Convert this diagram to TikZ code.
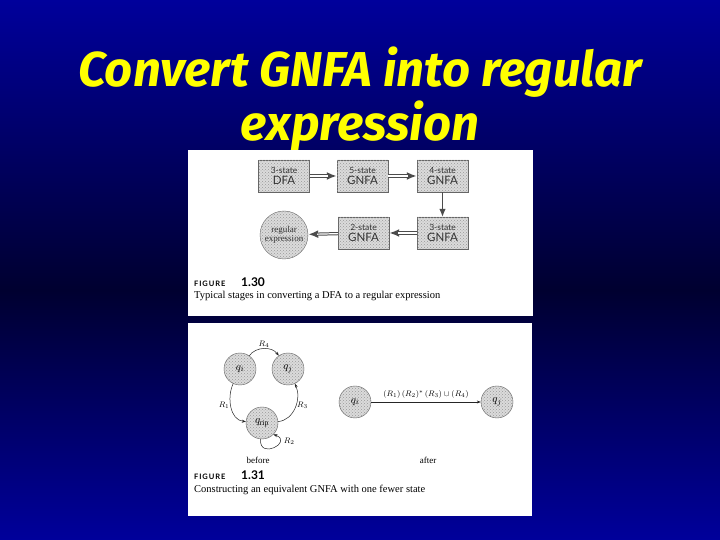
\documentclass[tikz,border=0pt]{standalone}
\usepackage{fontspec}
\setmainfont{Liberation Serif}
\newfontfamily\titlefont{Fira Sans}
\newfontfamily\bookfont{Lato}
\usetikzlibrary{arrows.meta,patterns}
\definecolor{slideblue}{RGB}{0,0,155}
\definecolor{slidedark}{RGB}{0,0,48}
\definecolor{titleyellow}{RGB}{255,255,0}
\tikzset{
  titletext/.style={text=titleyellow, align=center,
    font=\titlefont\bfseries\itshape\fontsize{49}{54}\selectfont},
  stipple/.style={fill=black!14, postaction={pattern=crosshatch dots, pattern color=black!40}},
  stagebox/.style={draw=black!60, stipple, minimum width=51pt, minimum height=32pt,
    inner sep=1pt, align=center, text=black!80, font=\bookfont\fontsize{11.5}{10.5}\selectfont},
  stagecirc/.style={circle, draw=black!60, stipple, minimum size=48pt, inner sep=0pt,
    align=center, text=black!80, font=\fontsize{9}{9}\selectfont},
  dblarrow/.style={-{Latex[length=10pt,width=8pt]}, line width=3.2pt, draw=black!70,
    postaction={draw=white, line width=1.2pt, -, shorten >=9pt}},
  sglarrow/.style={-{Latex[length=8pt,width=6.5pt]}, line width=0.9pt, draw=black!70},
  state/.style={circle, draw=black!65, stipple, minimum size=32pt, inner sep=0pt,
    font=\fontsize{11}{11}\selectfont},
  trans/.style={-{Stealth[length=4pt,width=3pt]}, line width=0.5pt, draw=black!85},
  edgelabel/.style={font=\fontsize{8.5}{8.5}\selectfont, inner sep=1pt},
  caption/.style={anchor=base west, inner sep=0pt, font=\fontsize{10.5}{11}\selectfont},
  fighead/.style={anchor=base west, inner sep=0pt,
    font=\bookfont\bfseries\fontsize{7.5}{8}\selectfont\addfontfeature{LetterSpace=12}},
  fignum/.style={anchor=base west, inner sep=0pt, font=\bookfont\bfseries\fontsize{12}{12}\selectfont},
  smalllabel/.style={font=\fontsize{9}{9}\selectfont}
}
\newcommand{\stagename}[2]{{\fontsize{8.5}{9}\selectfont #1}\\#2}
\begin{document}
\begin{tikzpicture}[x=1pt,y=1pt]
  \useasboundingbox (0,0) rectangle (720,540);
  % slide background
  \fill[top color=slidedark, bottom color=slideblue] (0,0) rectangle (720,250);
  \fill[top color=slideblue, bottom color=slidedark] (0,250) rectangle (720,540);
  \node[titletext] (title) at (360,441) {Convert GNFA into regular\\expression};

  % figure 1.30
  \fill[white] (188,224) rectangle (533,390);
  \node[stagebox] (dfa) at (284,364) {\stagename{3-state}{DFA}};
  \node[stagebox] (g5) at (362.5,364) {\stagename{5-state}{GNFA}};
  \node[stagebox] (g4) at (442.5,364) {\stagename{4-state}{GNFA}};
  \node[stagebox] (g3) at (442.5,307) {\stagename{3-state}{GNFA}};
  \node[stagebox] (g2) at (363.5,307) {\stagename{2-state}{GNFA}};
  \node[stagecirc] (rex) at (284,305) {regular\\expression};
  \draw[dblarrow] (dfa) -- (g5);
  \draw[dblarrow] (g5) -- (g4);
  \draw[sglarrow] (g4) -- (g3);
  \draw[dblarrow] (g3) -- (g2);
  \draw[dblarrow] (g2) -- (rex);
  \node[fighead] (head1) at (194,253) {FIGURE};
  \node[fignum] (num1) at (241,253) {1.30};
  \node[caption] (cap1) at (194,241) {Typical stages in converting a DFA to a regular expression};

  % figure 1.31
  \fill[white] (188,24) rectangle (532,217);
  \node[state] (qi) at (240,171) {$q_i$};
  \node[state] (qj) at (288,171) {$q_j$};
  \node[state] (qrip) at (262,117) {$q_{\mathrm{rip}}$};
  \draw[trans] (qi) to[out=55,in=125] node[edgelabel, above] (r4) {$R_4$} (qj);
  \draw[trans] (qi) to[out=-115,in=175] node[edgelabel, pos=0.45, left] (r1) {$R_1$} (qrip);
  \draw[trans] (qrip) to[out=5,in=-65] node[edgelabel, pos=0.55, right] (r3) {$R_3$} (qj);
  \draw[trans] (qrip.-95) to[out=-95,in=-20,looseness=4] node[edgelabel, pos=0.75, right=3pt] (r2) {$R_2$} (qrip.-45);
  \node[smalllabel] (before) at (258,80) {before};

  \node[state] (si) at (355,138) {$q_i$};
  \node[state] (sj) at (497,138) {$q_j$};
  \draw[trans] (si) -- node[edgelabel, above=2pt] (rall) {$(R_1)\,(R_2)^*\,(R_3)\cup(R_4)$} (sj);
  \node[smalllabel] (after) at (428,80) {after};
  \node[fighead] (head2) at (194,60) {FIGURE};
  \node[fignum] (num2) at (241,60) {1.31};
  \node[caption] (cap2) at (194,47) {Constructing an equivalent GNFA with one fewer state};
\end{tikzpicture}
\end{document}
